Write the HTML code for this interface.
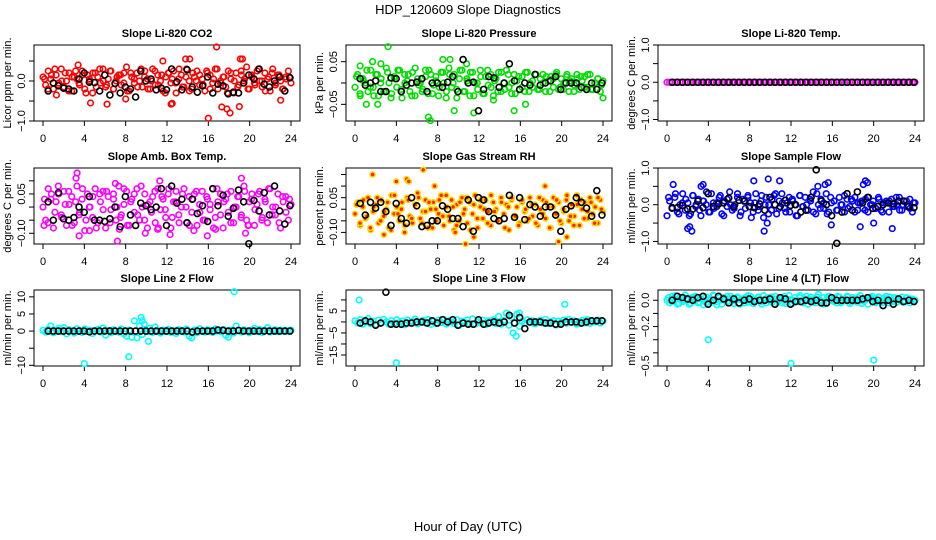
<!DOCTYPE html>
<html><head><meta charset="utf-8"><style>
html,body{margin:0;padding:0;background:#fff;}
svg{display:block;font-family:"Liberation Sans",sans-serif;}
</style></head><body>
<svg id="chart" width="936" height="540" viewBox="0 0 936 540" xmlns="http://www.w3.org/2000/svg">
<text x="468" y="14" font-size="13" text-anchor="middle">HDP_120609  Slope Diagnostics</text>
<text x="468" y="531" font-size="13" text-anchor="middle">Hour of Day (UTC)</text>
</svg>
<script>
const xTicks=[0,4,8,12,16,20,24];
const titles=["Slope Li-820 CO2","Slope Li-820 Pressure","Slope Li-820 Temp.","Slope Amb. Box Temp.","Slope Gas Stream RH","Slope Sample Flow","Slope Line 2 Flow","Slope Line 3 Flow","Slope Line 4 (LT) Flow"];
const yTitles=["Licor ppm per min.","kPa per min.","degrees C per min.","degrees C per min.","percent per min.","ml/min per min.","ml/min per min.","ml/min per min.","ml/min per min."];
const yRanges=[[-1.0,0.9],[-0.089,0.089],[-1.04,1.0],[-0.141,0.149],[-0.15,0.178],[-1.07,1.0],[-10.2,12],[-20,14.5],[-0.5,0.078]];
const yTicks=[[-1,-0.5,0,0.5],[-0.05,0,0.05],[-1,-0.5,0,0.5,1],[-0.1,-0.05,0,0.05,0.1],[-0.1,-0.05,0,0.05,0.1,0.15],[-1,-0.5,0,0.5,1],[-10,-5,0,5,10],[-15,-10,-5,0,5,10],[-0.5,-0.4,-0.3,-0.2,-0.1,0]];
const yTickLabels=[{"-1":"-1.0","0":"0.0"},{"-0.05":"-0.05","0.05":"0.05"},{"-1":"-1.0","0":"0.0","1":"1.0"},{"-0.1":"-0.10","0.05":"0.05"},{"-0.1":"-0.10","0.05":"0.05"},{"-1":"-1.0","0":"0.0","1":"1.0"},{"-10":"-10","0":"0","5":"5","10":"10"},{"-15":"-15","-5":"-5","5":"5"},{"-0.5":"-0.5","-0.2":"-0.2","0":"0.0"}];

const p1Color=[0.1,-0.1,0.25,0.05,-0.2,0.15,-0.05,0.3,-0.15,0.0,0.2,-0.25,0.1,0.05,-0.1,0.25,-0.2,0.15,0.0,-0.3,0.2,0.1,-0.05,0.3,-0.15,0.05,0.25,-0.2,0.0,0.15,-0.1,0.2,0.35,-0.25,0.1,-0.05,0.2,0.0,-0.15,0.25,0.05,-0.2,0.3,-0.1,0.15,0.0,-0.25,0.1,0.2,-0.05,0.25,-0.3,0.05,0.15,-0.15,0.3,0.0,-0.2,0.1,0.25,-0.1,0.05,-0.25,0.2,0.15,-0.05,0.3,-0.2,0.0,0.1,-0.15,0.25,0.05,-0.3,0.2,-0.1,0.15,0.0,0.35,-0.2,0.1,-0.05,0.25,0.0,-0.15,0.2,0.05,-0.25,0.3,-0.1,0.15,0.0,-0.2,0.1,0.25,-0.05];
const p1Color2=[0.05,-0.2,0.15,0.3,-0.1,0.0,0.2,-0.25,0.1,0.25,-0.05,0.15,-0.3,0.05,0.2,-0.15,0.3,0.0,-0.1,0.25,-0.2,0.1,0.15,-0.05,-0.25,0.2,0.05,-0.15,0.3,0.1,-0.2,0.0,0.25,-0.1,0.15,-0.3,0.2,0.05,-0.05,0.3,-0.15,0.1,-0.25,0.2,0.0,0.15,-0.1,0.25,-0.2,0.05,0.3,-0.05,0.1,-0.3,0.2,0.0,-0.15,0.25,0.05,-0.2,0.15,-0.1,0.3,0.0,-0.25,0.1,0.2,-0.05,0.15,-0.2,0.05,0.1];
const p1OutX=[4.6,6.2,12.4,12.5,13.8,16,16.8,17.3,17.8,18.1,19,23,3.4,14.2,19.1,19.3,1.3,11.6,8];
const p1OutY=[-0.55,-0.58,-0.58,-0.56,0.55,-0.93,0.85,-0.65,-0.7,-0.8,-0.64,-0.48,0.4,0.55,0.55,0.55,-0.35,0.5,-0.45];
const p1Black=[-0.25,-0.05,-0.12,-0.18,-0.2,-0.25,0.05,0.2,-0.03,-0.04,-0.25,0.15,-0.35,-0.06,-0.3,-0.15,-0.2,-0.4,0.25,0.0,0.05,-0.22,-0.18,-0.22,0.3,-0.02,-0.22,0.28,-0.15,-0.28,-0.12,0.1,-0.3,-0.08,-0.12,-0.32,-0.28,-0.3,-0.05,0.15,0.05,0.3,-0.08,-0.15,0.0,0.1,-0.25,0.08];

const p2Color=[-0.01,0.02,-0.03,0.01,0.0,-0.02,0.03,-0.01,0.02,-0.03,0.01,-0.02,0.035,0.0,-0.025,0.015,-0.01,0.03,-0.035,0.02,0.005,-0.02,0.025,-0.03,0.01,0.0,-0.015,0.03,-0.025,0.02,-0.005,0.015,-0.03,0.025,0.0,-0.02,0.035,-0.01,0.02,-0.035,0.01,0.03,-0.02,0.005,-0.03,0.025,0.0,-0.015,0.03,-0.025,0.015,-0.005,0.02,-0.03,0.01,0.025,-0.02,0.0,0.03,-0.01,-0.025,0.02,0.005,-0.015,0.015,-0.02,0.025,0.0,-0.01,0.02,-0.015,0.01,0.02,-0.02,0.005,0.015,-0.01,0.02,-0.015,0.01,0.0,0.015,-0.02,0.01,-0.005,0.02,-0.015,0.005,0.015,-0.01,0.02,-0.015,0.0,0.01,-0.02,0.005];
const p2Color2=[0.015,-0.025,0.005,0.03,-0.01,-0.03,0.02,0.0,-0.02,0.025,-0.035,0.01,0.03,-0.015,0.0,0.02,-0.03,0.035,-0.005,-0.02,0.015,0.03,-0.025,0.005,-0.01,0.025,-0.035,0.02,0.0,-0.015,0.03,-0.02,0.01,0.025,-0.03,0.0,0.015,-0.025,0.03,-0.01,0.005,-0.02,0.025,-0.015,0.02,0.0,-0.025,0.015,-0.01,0.025,-0.02,0.005,0.02,-0.015,0.0,0.015,-0.02,0.01,0.025,-0.01,-0.015,0.02,0.005,-0.02,0.01,0.015,-0.01,0.02,-0.015,0.0,0.01,-0.005];
const p2OutX=[3.2,1.7,1.1,0.5,2.2,7.1,7.3,9.6,11.5,10.8,15.4,16.5,13.4,24,8.5,9.2,2.5];
const p2OutY=[0.085,0.05,-0.05,0.04,-0.05,-0.08,-0.088,-0.065,-0.07,0.045,-0.065,-0.05,-0.04,-0.035,0.055,0.055,0.045];
const p2Black=[0.01,-0.005,0.0,0.005,-0.02,-0.02,0.012,0.01,-0.02,-0.005,0.0,0.002,0.01,-0.02,0.0,0.0,-0.01,0.002,0.015,-0.02,0.055,0.0,0.002,-0.065,-0.015,0.015,0.012,-0.01,0.0,0.045,0.005,-0.015,0.0,-0.005,0.02,-0.005,0.0,0.005,0.015,-0.015,0.0,0.0,0.0,-0.01,-0.015,0.0,-0.015,0.0];

const p3Color=[0,0,0,0,0,0,0,0,0,0,0,0,0,0,0,0,0,0,0,0,0,0,0,0,0,0,0,0,0,0,0,0,0,0,0,0,0,0,0,0,0,0,0,0,0,0,0,0,0,0,0,0,0,0,0,0,0,0,0,0,0,0,0,0,0,0,0,0,0,0,0,0,0,0,0,0,0,0,0,0,0,0,0,0,0,0,0,0,0,0,0,0,0,0,0,0];
const p3Color2=[];
const p3OutX=[];
const p3OutY=[];
const p3Black=[0,0,0,0,0,0,0,0,0,0,0,0,0,0,0,0,0,0,0,0,0,0,0,0,0,0,0,0,0,0,0,0,0,0,0,0,0,0,0,0,0,0,0,0,0,0,0,0];

const p4Color=[0.0,-0.05,0.07,0.03,-0.08,0.02,0.05,-0.03,0.06,-0.07,0.01,0.04,-0.06,0.08,-0.02,0.03,-0.09,0.05,0.0,-0.04,0.07,-0.06,0.02,0.06,-0.08,0.04,-0.01,0.05,-0.05,0.08,-0.03,0.01,0.06,-0.07,0.03,-0.02,0.07,-0.05,0.0,0.05,-0.08,0.02,0.04,-0.06,0.07,-0.01,0.03,-0.04,0.05,-0.08,0.02,0.06,-0.03,0.0,0.07,-0.06,0.04,-0.02,0.05,-0.07,0.01,0.06,-0.05,0.03,-0.01,0.07,-0.04,0.02,0.05,-0.08,0.03,-0.02,0.06,-0.06,0.0,0.04,-0.03,0.08,-0.05,0.02,0.05,-0.07,0.01,0.06,-0.04,0.03,-0.06,0.07,0.0,-0.03,0.05,-0.08,0.02,0.04,-0.05,0.01];
const p4Color2=[0.03,-0.06,0.05,-0.02,0.08,-0.04,0.01,0.06,-0.07,0.02,-0.03,0.07,-0.05,0.0,0.04,-0.08,0.05,-0.01,0.06,-0.06,0.03,0.0,-0.04,0.07,-0.07,0.02,0.05,-0.03,0.08,-0.05,0.01,-0.02,0.06,-0.08,0.04,-0.01,0.07,-0.04,0.02,-0.06,0.05,0.0,-0.07,0.03,0.06,-0.02,-0.05,0.04,0.01,-0.08,0.07,-0.03,0.02,0.05,-0.06,0.0,0.04,-0.04,0.06,-0.07,0.03,-0.01,0.05,-0.05,0.02,0.07,-0.03,0.0,-0.06,0.04,-0.02,0.03];
const p4OutX=[3.3,3.2,3.5,4.5,7.2,7.4,9.9,11.1,12.3,15.9,16.7,19.6,19.9,19.2,0.1,7.0,11.3,14.6];
const p4OutY=[0.13,0.11,-0.11,-0.09,-0.13,-0.085,-0.1,-0.085,-0.105,-0.11,-0.085,-0.1,-0.07,0.11,-0.07,0.09,0.1,-0.09];
const p4Black=[0.02,-0.05,0.055,-0.045,-0.05,-0.04,0.0,-0.02,0.04,-0.05,-0.05,-0.055,-0.045,0.0,-0.075,0.04,-0.03,-0.07,0.015,0.005,-0.01,0.0,0.07,-0.07,0.08,0.015,0.03,-0.06,0.03,-0.025,0.005,-0.055,0.07,0.005,0.045,-0.035,-0.005,0.065,0.02,-0.14,0.025,-0.015,0.055,-0.03,0.08,-0.015,-0.065,0.005];

const p5Color=[-0.02,0.03,-0.07,0.01,-0.04,0.05,-0.09,-0.01,0.02,-0.06,0.04,-0.03,0.0,-0.08,0.06,-0.02,0.01,-0.05,0.03,-0.1,0.05,-0.03,-0.06,0.02,0.07,-0.04,-0.01,0.04,-0.08,0.0,0.03,-0.05,-0.02,0.06,-0.07,0.01,-0.03,0.04,-0.09,0.02,-0.05,0.05,0.0,-0.06,0.03,-0.02,0.06,-0.08,0.01,-0.04,0.04,-0.01,-0.07,0.03,0.0,-0.05,0.05,-0.02,0.02,-0.09,0.04,-0.03,0.01,-0.06,0.03,-0.01,-0.05,0.05,-0.03,0.02,-0.07,0.0,0.04,-0.04,0.01,-0.08,0.05,-0.02,0.03,-0.06,-0.01,0.04,-0.05,0.02,-0.03,0.06,-0.07,0.0,0.03,-0.04,0.05,-0.02,0.01,-0.06,0.04,-0.01];
const p5Color2=[0.02,-0.06,0.04,-0.03,-0.08,0.01,0.05,-0.05,-0.01,0.03,-0.09,0.06,-0.02,0.0,-0.07,0.04,-0.04,0.02,0.05,-0.06,-0.01,0.03,-0.08,0.0,0.04,-0.03,0.06,-0.05,0.01,-0.07,0.03,-0.02,0.05,-0.09,0.02,-0.04,0.04,0.0,-0.06,0.06,-0.01,-0.05,0.03,-0.08,0.01,0.05,-0.03,-0.07,0.04,0.0,-0.04,0.02,-0.06,0.05,-0.02,0.03,-0.08,0.01,0.04,-0.05,0.0,0.06,-0.03,-0.07,0.02,0.04,-0.04,-0.01,0.03,-0.06,0.05,0.0];
const p5OutX=[1.7,6.6,5.0,5.2,4.0,10.7,19.7,20.5,11.5,7.7,18.4,9.7,2.8];
const p5OutY=[0.15,0.17,0.13,0.12,0.12,-0.15,-0.14,-0.12,-0.12,0.1,0.1,-0.1,-0.11];
const p5Black=[0.025,-0.025,0.03,0.005,0.03,-0.01,-0.07,0.025,-0.04,-0.06,0.05,0.015,-0.075,-0.07,-0.05,-0.05,0.015,0.0,-0.04,-0.04,-0.075,0.04,-0.095,0.05,0.04,-0.01,-0.04,-0.05,-0.04,0.06,-0.035,0.05,-0.045,0.02,0.01,-0.03,0.01,0.01,-0.025,-0.095,0.0,0.015,0.05,0.03,0.005,-0.03,0.08,-0.025];

const p6Color=[-0.3,0.1,-0.1,0.2,-0.2,0.0,0.3,-0.15,0.05,-0.25,0.25,-0.05,0.15,-0.3,0.1,0.0,-0.2,0.3,-0.1,0.05,0.2,-0.25,0.1,-0.05,0.35,-0.15,0.0,0.2,-0.3,0.15,-0.1,0.25,0.05,-0.2,0.3,-0.05,0.1,-0.35,0.2,0.0,-0.15,0.25,-0.25,0.1,0.3,-0.1,0.05,-0.2,0.15,0.0,-0.3,0.25,-0.05,0.2,-0.15,0.1,0.35,-0.25,0.0,0.15,-0.1,0.3,-0.2,0.05,0.1,-0.15,0.2,0.0,-0.2,0.15,-0.05,0.1,0.2,-0.15,0.05,-0.1,0.15,-0.2,0.0,0.1,-0.1,0.2,-0.15,0.05,0.1,-0.2,0.15,-0.05,0.0,0.2,-0.15,0.1,-0.05,0.15,-0.2,0.05];
const p6Color2=[0.2,-0.1,0.3,-0.25,0.05,0.15,-0.3,0.25,0.0,-0.15,0.1,0.35,-0.2,0.05,-0.05,0.25,-0.3,0.15,0.0,-0.1,0.3,-0.2,0.1,0.2,-0.35,0.05,-0.15,0.25,0.0,-0.25,0.15,0.3,-0.1,0.05,-0.2,0.2,0.1,-0.3,0.25,-0.05,0.0,0.15,-0.2,0.3,-0.1,0.05,-0.25,0.2,0.1,-0.15,0.0,0.25,-0.1,0.15,-0.2,0.05,0.1,-0.15,0.2,0.0,-0.1,0.15,-0.2,0.05,0.1,-0.05,0.2,-0.15,0.0,0.1,-0.1,0.05];
const p6OutX=[0.6,2.2,2.4,2.0,3.3,3.5,8.4,9.8,9.4,10.9,9.7,14.6,15.6,15.3,15.9,19.2,19.4,18.7,20.0,21.8,19.0];
const p6OutY=[0.55,-0.6,-0.72,-0.65,0.5,0.55,0.65,0.7,-0.72,0.65,-0.5,0.5,0.6,0.55,-0.55,0.65,0.6,-0.6,-0.5,-0.65,0.55];
const p6Black=[-0.08,-0.08,-0.02,-0.12,-0.12,0.1,-0.08,0.3,-0.05,0.02,0.05,0.18,-0.05,0.12,0.1,-0.05,-0.08,0.02,-0.15,0.2,0.0,-0.05,0.12,-0.02,0.0,-0.2,-0.15,0.2,0.95,0.1,0.0,-0.3,-1.05,-0.2,0.3,-0.15,0.35,0.05,0.2,-0.1,-0.05,0.0,0.05,0.02,0.1,0.1,-0.05,-0.08];

const p7Color=[0.2,-0.3,0.5,1.5,-0.5,0.3,0.8,-0.2,1.0,-0.8,0.4,0.0,-0.6,0.7,0.2,-0.4,0.6,-0.1,0.3,-0.7,0.1,0.5,-0.3,0.9,-1.2,0.2,-0.5,0.4,0.0,-0.3,0.6,-0.8,-1.5,0.3,-1.8,3.0,-2.0,1.5,-1.0,0.5,-0.2,0.8,-0.4,1.2,0.0,-0.6,0.3,-0.2,0.5,-0.4,0.1,-0.7,0.4,0.2,-0.3,0.6,-1.5,-2.0,0.3,-0.5,0.7,0.1,-0.3,0.4,0.2,-0.4,0.6,0.0,-0.2,0.5,-1.2,-1.8,0.3,-0.6,1.5,0.2,-0.3,0.4,0.0,-0.5,0.3,0.8,-0.2,0.5,-0.4,0.2,1.0,-0.3,0.1,0.4,-0.2,0.3,0.0,0.2,-0.1,0.3];
const p7Color2=[];
const p7OutX=[18.5,4.0,8.3,9.5,9.6,10.2,9.8];
const p7OutY=[11.5,-9.5,-7.5,4.0,3.0,-3.0,2.0];
const p7Black=[0,0,0,0,0,0,0,0,-0.2,0,0,0,0,0,0,0,0,0,0,0,0,0,0,0,0,0,0,0,-0.3,0,0,0,0,0.3,0.2,0,0,0.2,0,0,0,0,0,0,0,0,0,0];

const p8Color=[0.5,-0.5,1.0,-1.0,0.0,1.5,-0.8,0.3,-1.2,0.8,-0.3,1.2,0.0,-1.0,0.6,-0.6,1.0,-0.2,0.4,-1.3,0.9,-0.5,0.2,1.3,-0.9,0.0,0.7,-0.4,1.1,-1.1,0.3,-0.7,0.8,-0.3,1.2,-1.0,0.5,0.0,-0.8,1.0,-1.5,0.4,-0.2,0.9,-0.6,1.4,-1.0,0.2,-0.4,0.8,-1.2,0.5,0.0,1.0,-0.7,2.5,-1.0,0.6,4.0,-1.5,2.0,-0.5,3.5,-2.0,0.3,-0.6,1.0,-0.3,0.5,-0.9,0.2,0.8,-0.5,1.2,-0.8,0.0,0.6,-1.4,0.4,-0.2,0.9,-0.6,1.1,-0.3,0.5,-1.0,0.2,0.7,-0.4,1.0,-0.7,0.3,0.0,0.8,-0.5,0.4];
const p8Color2=[];
const p8OutX=[0.4,4.0,20.3,15.3,15.6,15.9];
const p8OutY=[10,-18.5,8,-5,-6.5,4];
const p8Black=[-0.5,0.5,0.0,-1.5,-0.5,13.5,-1,-1,-1,-0.5,-0.5,0,0,-0.5,0.5,-0.5,1,0,1,-1.5,-0.5,-1,-1,1,-1,-0.5,0,-0.5,0,3,-0.5,2,-3,0,0,0,-0.5,-0.5,-1,-1,0,0,0,-0.5,0,0.5,0.5,0.5];

const p9Color=[0.0,-0.02,0.03,0.01,-0.03,0.02,-0.01,0.04,0.0,-0.025,0.015,0.03,-0.02,0.01,-0.035,0.025,0.005,-0.015,0.035,-0.01,0.02,-0.03,0.0,0.03,-0.02,0.015,-0.005,0.025,-0.03,0.01,0.02,-0.015,0.03,-0.025,0.005,0.02,-0.01,0.035,-0.02,0.0,0.025,-0.03,0.01,0.015,-0.02,0.03,-0.01,0.005,-0.025,0.02,0.0,0.035,-0.015,0.01,-0.03,0.025,0.005,-0.02,0.045,-0.01,0.02,-0.025,0.03,0.0,0.015,-0.02,0.025,-0.01,0.005,0.03,-0.025,0.02,0.0,-0.015,0.035,-0.005,0.01,-0.03,0.02,0.005,-0.02,0.025,-0.01,0.015,0.03,-0.02,0.0,0.02,-0.015,0.01,0.025,-0.005,0.015,-0.02,0.01,0.0];
const p9Color2=[0.02,-0.01,0.035,-0.025,0.0,0.015,-0.03,0.025,0.005,-0.015,0.03,-0.02,0.01,0.04,-0.035,0.0,0.02,-0.01,0.03,-0.025,0.015,0.005,-0.02,0.035,-0.01,0.0,0.025,-0.03,0.01,0.02,-0.015,0.03,-0.005,0.015,-0.025,0.035,0.0,-0.01,0.02,-0.02,0.03,0.005,-0.015,0.025,0.0,-0.03,0.015,0.02,-0.01,0.03,-0.02,0.005,0.025,-0.015,0.01,0.02,-0.025,0.0,0.015,0.03,-0.01,0.02,-0.02,0.005,0.025,-0.01,0.015,0.0,-0.015,0.02,0.01,-0.005];
const p9OutX=[4.0,12.0,20.0];
const p9OutY=[-0.3,-0.48,-0.455];
const p9Black=[0.0,0.03,0.02,0.01,0.0,0.02,0.03,-0.03,0.0,0.03,0.01,-0.02,0.01,-0.02,0.0,0.01,-0.01,0.0,0.0,0.01,-0.03,0.02,0.01,-0.03,-0.01,-0.01,0.0,-0.01,0.0,-0.02,-0.02,0.02,0.0,0.0,0.0,0.0,0.0,0.01,0.02,-0.01,0.0,-0.04,0.0,-0.03,0.01,-0.01,0.0,-0.01];

const colorData=[p1Color,p2Color,p3Color,p4Color,p5Color,p6Color,p7Color,p8Color,p9Color];
const colorData2=[p1Color2,p2Color2,p3Color2,p4Color2,p5Color2,p6Color2,p7Color2,p8Color2,p9Color2];
const outXData=[p1OutX,p2OutX,p3OutX,p4OutX,p5OutX,p6OutX,p7OutX,p8OutX,p9OutX];
const outYData=[p1OutY,p2OutY,p3OutY,p4OutY,p5OutY,p6OutY,p7OutY,p8OutY,p9OutY];
const blackData=[p1Black,p2Black,p3Black,p4Black,p5Black,p6Black,p7Black,p8Black,p9Black];

const strokeCols=["#ff0000","#00dd00","#ff00ff","#ff00ff","#ffd700","#0000ff","#00ffff","#00ffff","#00ffff"];
const NS="http://www.w3.org/2000/svg";
const svg=document.getElementById('chart');
const colLeft=[34,346,658], rowTop=[45,168,290], W=266, H=76;

function mk(tag,attrs,parent){const e=document.createElementNS(NS,tag);for(const k in attrs)e.setAttribute(k,attrs[k]);(parent||svg).appendChild(e);return e;}

for(let p=0;p<9;p++){
  const L=colLeft[p%3], T=rowTop[Math.floor(p/3)], B=T+H, R=L+W;
  const x0=L+9, x1=L+257;
  const xs=v=>x0+(v/24)*(x1-x0);
  const [ymin,ymax]=yRanges[p];
  const ys=v=>B-(v-ymin)/(ymax-ymin)*H;
  const g=mk('g',{});
  
  
  const t=mk('text',{x:(L+R)/2,y:T-8,'font-size':11,'font-weight':'bold','text-anchor':'middle'},g);
  t.textContent=titles[p];
  
  
  const yt=mk('text',{x:0,y:0,'font-size':11,'text-anchor':'middle',transform:`translate(${L-23},${(T+B)/2}) rotate(-90)`},g);
  yt.textContent=yTitles[p];
  
  
  const xa=mk('line',{x1:xs(0),x2:xs(24),y1:B,y2:B,stroke:'#000'},g);
  
  
  xTicks.forEach(v=>{
    const tk=mk('line',{x1:xs(v),x2:xs(v),y1:B,y2:B+5,stroke:'#000'},g);
    
    
    const tl=mk('text',{x:xs(v),y:B+21,'font-size':11,'text-anchor':'middle'},g);
    tl.textContent=v;
    
    
  });
  const ticks=yTicks[p];
  const ya=mk('line',{x1:L,x2:L,y1:ys(ticks[0]),y2:ys(ticks[ticks.length-1]),stroke:'#000'},g);
  
  
  ticks.forEach(v=>{
    const tk=mk('line',{x1:L-5,x2:L,y1:ys(v),y2:ys(v),stroke:'#000'},g);
    
    
    const lab=yTickLabels[p][String(v)];
    if(lab!==undefined){
      const tl=mk('text',{x:0,y:0,'font-size':11,'text-anchor':'middle',transform:`translate(${L-9},${ys(v)}) rotate(-90)`},g);
      tl.textContent=lab.replace('-','\u2212');
      
      
    }
  });
  const box=mk('rect',{x:L,y:T,width:W,height:H,fill:'none',stroke:'#000'},g);
  
  
  const cs=strokeCols[p];
  const fillC = p===4 ? '#ff2200' : 'none';
  const rr = p===4 ? 2.5 : 2.8;
  const cv=colorData[p];
  cv.forEach((v,i)=>{
    const c=mk('circle',{cx:xs(i*24/(cv.length-1)),cy:ys(v),r:rr,fill:fillC,stroke:cs,'stroke-width':1.6},g);
    
    
  });
  const cv2=colorData2[p];
  cv2.forEach((v,i)=>{
    const c=mk('circle',{cx:xs(0.15+i*23.7/(cv2.length-1)),cy:ys(v),r:rr,fill:fillC,stroke:cs,'stroke-width':1.6},g);
    
    
  });
  outXData[p].forEach((xv,i)=>{
    const c=mk('circle',{cx:xs(xv),cy:ys(outYData[p][i]),r:rr,fill:fillC,stroke:cs,'stroke-width':1.6},g);
    
    
  });
  const bv=blackData[p];
  bv.forEach((v,i)=>{
    const c=mk('circle',{cx:xs(0.5+i*23.4/(bv.length-1)),cy:ys(v),r:3,fill:'none',stroke:'#000','stroke-width':1.6},g);
    
    
  });
}
</script>
</body></html>
